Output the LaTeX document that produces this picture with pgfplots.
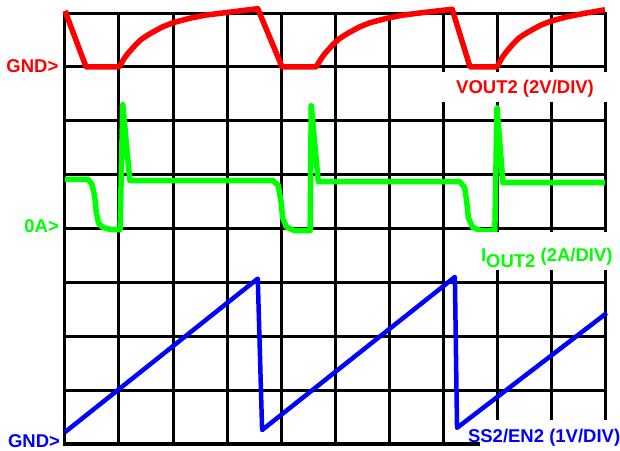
\documentclass[border=0pt]{standalone}
\usepackage{fontspec}
\setmainfont{Liberation Sans}
\usepackage{pgfplots}
\pgfplotsset{compat=1.18}
\definecolor{tred}{RGB}{255,0,0}
\definecolor{tgreen}{RGB}{0,255,0}
\definecolor{tblue}{RGB}{0,0,255}
\newcommand{\lf}{\fontsize{18.5bp}{20bp}\selectfont\bfseries}
\begin{document}
\begin{tikzpicture}
\useasboundingbox (-65bp,-7bp) rectangle (555bp,444bp);
\begin{axis}[
  at={(0,0)}, anchor=south west,
  scale only axis, width=540bp, height=431bp,
  xmin=0, xmax=10, ymin=0, ymax=8,
  xtick={0,...,10}, ytick={0,...,8},
  xticklabels={}, yticklabels={},
  major tick length=0pt,
  grid=major,
  major grid style={black, line width=3bp, line cap=rect},
  axis line style={draw=none},
  clip=false,
]
% red VOUT2
\addplot[tred, line width=5.5bp, line join=round] coordinates {
(0,8.04)(0.39,7.0)
(1,7)(1.05,7.08)(1.1,7.16)(1.15,7.23)(1.2,7.29)(1.3,7.40)(1.4,7.50)(1.5,7.57)(1.6,7.63)(1.8,7.74)(2.0,7.82)(2.3,7.90)(2.6,7.96)(3.0,8.01)(3.57,8.08)
(4.02,7.0)
(4.65,7)(4.7,7.08)(4.75,7.16)(4.8,7.23)(4.85,7.29)(4.95,7.40)(5.05,7.50)(5.15,7.57)(5.25,7.63)(5.45,7.74)(5.65,7.82)(5.95,7.90)(6.25,7.96)(6.65,8.01)(7.17,8.07)
(7.5,7.0)
(8,7)(8.05,7.09)(8.1,7.18)(8.15,7.25)(8.2,7.31)(8.3,7.43)(8.4,7.53)(8.5,7.60)(8.6,7.66)(8.8,7.77)(9.0,7.85)(9.3,7.93)(9.6,7.99)(10,8.06)
};
% green IOUT2
\addplot[tgreen, line width=5.5bp, line join=round] coordinates {
(0,4.91)(0.43,4.91)(0.5,4.82)(0.55,4.6)(0.58,4.3)(0.62,4.1)(0.7,4.02)(0.85,3.98)(1.02,3.98)(1.07,6.3)(1.2,4.89)
(3.85,4.89)(3.95,4.8)(4.0,4.5)(4.03,4.2)(4.1,4.03)(4.25,3.96)(4.54,3.96)(4.56,6.28)(4.69,4.87)
(7.31,4.87)(7.4,4.76)(7.44,4.5)(7.47,4.2)(7.55,4.02)(7.7,3.96)(7.96,3.96)(8.0,6.24)(8.11,4.85)(10,4.85)
};
% blue SS2/EN2
\addplot[tblue, line width=4.5bp, line join=round] coordinates {
(0,0.22)(3.57,3.07)(3.65,0.26)(7.22,3.1)(7.26,0.3)(10.03,2.43)
};
% label boxes
\node[fill=white, minimum width=175bp, minimum height=30bp, inner sep=0pt] at (axis cs:8.54,6.63) {};
\node[fill=white, minimum width=163bp, minimum height=38bp, inner sep=0pt] at (axis cs:8.68,3.58) {};
\node[fill=white, minimum width=140bp, minimum height=28bp, inner sep=0pt] at (axis cs:8.98,0.19) {};
% labels
\node[anchor=base west, inner sep=0pt, text=tred] at (axis cs:7.24,6.515) {\lf VOUT2 (2V/DIV)};
\node[anchor=base west, inner sep=0pt, text=tgreen] at (axis cs:7.7,3.38) {\lf I\raisebox{-6bp}{OUT2} (2A/DIV)};
\node[anchor=base west, inner sep=0pt, text=tblue] at (axis cs:7.46,0.02) {\lf SS2/EN2 (1V/DIV)};
\node[anchor=base east, inner sep=0pt, text=tred] at (axis cs:-0.12,6.89) {\lf GND>};
\node[anchor=base east, inner sep=0pt, text=tgreen] at (axis cs:-0.11,3.92) {\lf 0A>};
\node[anchor=base east, inner sep=0pt, text=tblue] at (axis cs:-0.09,-0.07) {\lf GND>};
\end{axis}
\end{tikzpicture}
\end{document}
